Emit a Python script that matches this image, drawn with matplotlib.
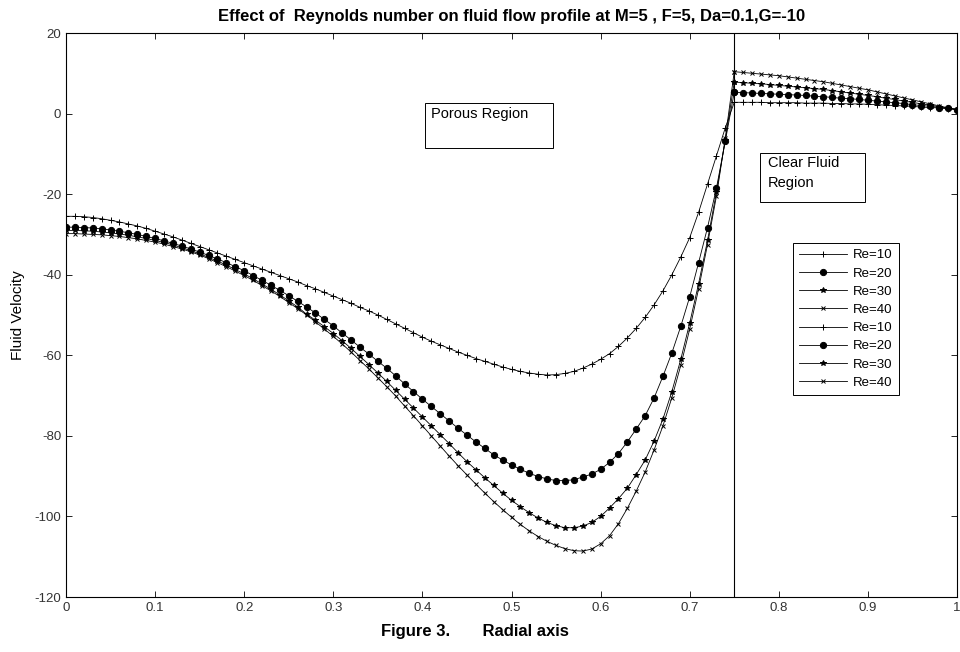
"""Effect of Reynolds number on fluid flow profile (porous / clear fluid regions)."""

import matplotlib
matplotlib.use("Agg")
import matplotlib.pyplot as plt
import numpy as np
from matplotlib.patches import Rectangle

plt.rcParams.update(
    {
        "font.family": ["Liberation Sans", "DejaVu Sans"],
        "font.size": 10,
        "axes.unicode_minus": False,
        "xtick.direction": "in",
        "ytick.direction": "in",
        "xtick.top": True,
        "ytick.right": True,
        "axes.linewidth": 0.8,
    }
)

# radial positions, 0.01 steps
r_porous = np.round(np.arange(0, 76) * 0.01, 2)
r_clear = np.round(0.75 + np.arange(0, 26) * 0.01, 2)
interface = 0.75

reynolds = [10, 20, 30, 40]
markers = ["+", "o", "*", "x"]
marker_sizes = [5, 4.5, 4, 3.5]

# velocity in porous region (0 <= r <= 0.75)
u_porous_re10 = [
    -25.5, -25.5, -25.6, -25.8, -26.1, -26.5, -26.9, -27.4, -27.9, -28.5,
    -29.2, -29.9, -30.6, -31.4, -32.2, -33.0, -33.8, -34.6, -35.4, -36.2,
    -37.0, -37.8, -38.6, -39.4, -40.2, -41.0, -41.8, -42.7, -43.5, -44.4,
    -45.3, -46.2, -47.1, -48.1, -49.0, -50.0, -51.1, -52.2, -53.3, -54.4,
    -55.5, -56.5, -57.4, -58.3, -59.2, -60.0, -60.8, -61.5, -62.2, -62.9,
    -63.5, -64.0, -64.4, -64.7, -64.9, -64.8, -64.5, -64.0, -63.2, -62.2,
    -61.0, -59.6, -57.8, -55.7, -53.3, -50.6, -47.5, -44.0, -40.0, -35.6,
    -30.8, -24.5, -17.5, -10.5, -3.5, 2.8,
]
u_porous_re20 = [
    -28.2, -28.2, -28.3, -28.4, -28.6, -28.9, -29.2, -29.6, -30.0, -30.5,
    -31.0, -31.6, -32.2, -32.9, -33.6, -34.4, -35.2, -36.1, -37.0, -38.0,
    -39.0, -40.2, -41.4, -42.6, -43.9, -45.2, -46.6, -48.0, -49.5, -51.1,
    -52.7, -54.5, -56.2, -58.0, -59.7, -61.5, -63.2, -65.1, -67.1, -69.0,
    -70.9, -72.7, -74.5, -76.3, -78.1, -79.8, -81.5, -83.1, -84.7, -86.0,
    -87.2, -88.3, -89.3, -90.1, -90.7, -91.1, -91.1, -90.9, -90.2, -89.5,
    -88.3, -86.6, -84.4, -81.5, -78.3, -75.0, -70.6, -65.2, -59.4, -52.8,
    -45.5, -37.0, -28.3, -18.5, -6.8, 5.3,
]
u_porous_re30 = [
    -29.0, -29.0, -29.1, -29.2, -29.4, -29.6, -29.9, -30.2, -30.6, -31.0,
    -31.5, -32.0, -32.6, -33.3, -34.0, -34.8, -35.7, -36.6, -37.6, -38.7,
    -39.8, -41.0, -42.3, -43.6, -45.0, -46.5, -48.0, -49.8, -51.3, -52.9,
    -54.6, -56.4, -58.3, -60.3, -62.3, -64.4, -66.5, -68.7, -70.9, -73.1,
    -75.3, -77.5, -79.7, -81.9, -84.2, -86.4, -88.4, -90.4, -92.3, -94.2,
    -96.0, -97.6, -99.1, -100.4, -101.5, -102.3, -102.8, -102.8, -102.4, -101.5,
    -100.0, -97.9, -95.6, -93.0, -89.6, -86.0, -81.3, -75.8, -69.0, -61.0,
    -52.0, -42.2, -31.5, -19.5, -6.5, 7.8,
]
u_porous_re40 = [
    -29.8, -29.8, -29.9, -30.0, -30.1, -30.3, -30.5, -30.8, -31.1, -31.5,
    -31.9, -32.4, -33.0, -33.6, -34.3, -35.1, -36.0, -37.0, -38.0, -39.1,
    -40.2, -41.4, -42.7, -44.0, -45.4, -46.9, -48.4, -50.0, -51.7, -53.5,
    -55.3, -57.2, -59.2, -61.3, -63.4, -65.6, -67.8, -70.1, -72.6, -75.0,
    -77.5, -80.0, -82.5, -85.0, -87.4, -89.7, -92.0, -94.2, -96.3, -98.3,
    -100.2, -102.0, -103.6, -105.0, -106.2, -107.2, -108.0, -108.5, -108.6, -108.1,
    -106.8, -104.8, -101.8, -98.0, -93.7, -89.0, -83.5, -77.5, -70.5, -62.5,
    -53.5, -43.5, -32.5, -20.5, -6.0, 10.4,
]

# velocity in clear fluid region (0.75 <= r <= 1)
u_clear_re10 = [
    2.8, 2.8, 2.8, 2.8, 2.7, 2.7, 2.7, 2.7, 2.6, 2.6, 2.6, 2.5, 2.5,
    2.4, 2.4, 2.3, 2.2, 2.1, 2.0, 1.9, 1.8, 1.6, 1.5, 1.4, 1.2, 1.0,
]
u_clear_re20 = [
    5.3, 5.2, 5.1, 5.0, 4.9, 4.8, 4.7, 4.6, 4.5, 4.3, 4.2, 4.0, 3.8,
    3.7, 3.5, 3.3, 3.1, 2.9, 2.7, 2.5, 2.2, 2.0, 1.8, 1.5, 1.3, 1.0,
]
u_clear_re30 = [
    7.8, 7.7, 7.5, 7.4, 7.2, 7.0, 6.8, 6.6, 6.4, 6.2, 6.0, 5.7, 5.4,
    5.1, 4.8, 4.5, 4.2, 3.8, 3.5, 3.1, 2.8, 2.4, 2.1, 1.7, 1.4, 1.0,
]
u_clear_re40 = [
    10.4, 10.2, 10.0, 9.8, 9.6, 9.4, 9.1, 8.8, 8.5, 8.2, 7.9, 7.5, 7.1,
    6.7, 6.3, 5.9, 5.4, 4.9, 4.4, 3.9, 3.4, 2.9, 2.4, 1.9, 1.4, 1.0,
]

porous = [u_porous_re10, u_porous_re20, u_porous_re30, u_porous_re40]
clear = [u_clear_re10, u_clear_re20, u_clear_re30, u_clear_re40]

fig = plt.figure(figsize=(9.6, 6.52), dpi=100)
ax = fig.add_axes([66 / 960, 1 - 597 / 652, 891 / 960, 564 / 652])

for re, m, ms, u in zip(reynolds, markers, marker_sizes, porous):
    ax.plot(r_porous, u, color="black", lw=0.6, marker=m, ms=ms,
            mew=0.7, label=f"Re={re}")
for re, m, ms, u in zip(reynolds, markers, marker_sizes, clear):
    ax.plot(r_clear, u, color="black", lw=0.6, marker=m, ms=ms,
            mew=0.7, label=f"Re={re}")

ax.axvline(interface, color="black", lw=0.8)

ax.set_xlim(0, 1)
ax.set_ylim(-120, 20)
ax.set_xticks(np.round(np.arange(0, 1.01, 0.1), 1))
ax.set_xticklabels(["0", "0.1", "0.2", "0.3", "0.4", "0.5", "0.6", "0.7", "0.8", "0.9", "1"])
ax.set_yticks(np.arange(-120, 21, 20))
ax.tick_params(labelsize=9.5, labelcolor="#333333", length=4, width=0.6)

ax.set_title("Effect of  Reynolds number on fluid flow profile at M=5 , F=5, Da=0.1,G=-10",
             fontsize=12, fontweight="bold", pad=9)
ax.set_xlabel("Figure 3.       Radial axis", fontsize=12, fontweight="bold")
ax.xaxis.set_label_coords(0.459, -0.047)
ax.set_ylabel("Fluid Velocity", fontsize=11, labelpad=7)

# region annotations
ax.add_patch(Rectangle((0.403, 0.796), 0.144, 0.080, transform=ax.transAxes,
                       fill=False, ec="black", lw=0.7))
ax.text(0.410, 0.857, "Porous Region", transform=ax.transAxes, fontsize=10.5,
        va="center", ha="left")
ax.add_patch(Rectangle((0.779, 0.700), 0.118, 0.087, transform=ax.transAxes,
                       fill=False, ec="black", lw=0.7))
ax.text(0.788, 0.770, "Clear Fluid", transform=ax.transAxes, fontsize=10.5,
        va="center", ha="left")
ax.text(0.788, 0.734, "Region", transform=ax.transAxes, fontsize=10.5,
        va="center", ha="left")

leg = ax.legend(loc="upper left", bbox_to_anchor=(0.808, 0.640), fontsize=9.5,
                fancybox=False, edgecolor="black", framealpha=1,
                handlelength=3.6, handletextpad=0.5, labelspacing=0.45,
                borderpad=0.5)
leg.get_frame().set_linewidth(0.7)

fig.savefig("out.png", dpi=100)
